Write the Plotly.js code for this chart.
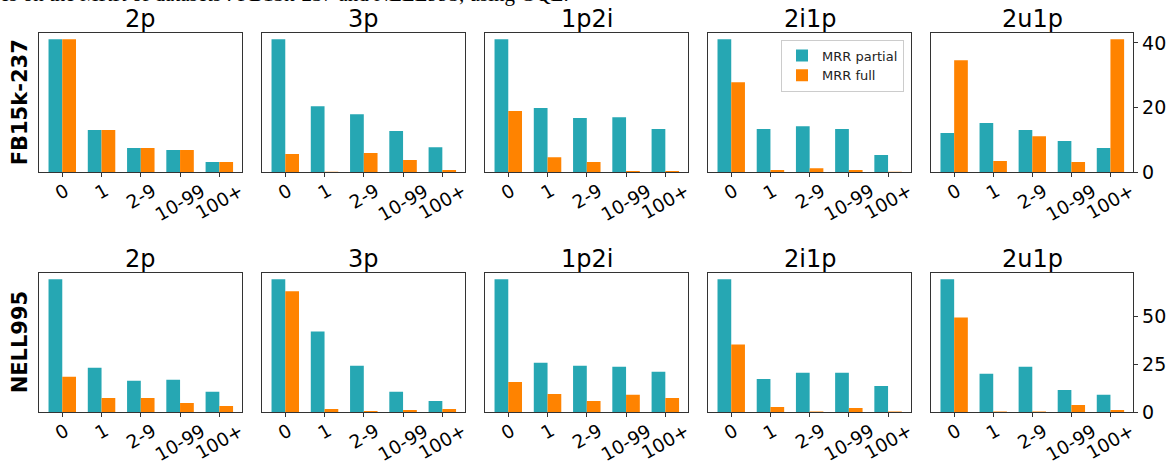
<!DOCTYPE html>
<html>
<head>
<meta charset="utf-8">
<script src="https://cdn.plot.ly/plotly-3.0.1.min.js"></script>
<style>html,body{margin:0;padding:0;background:#fff;}#chart{width:1173px;height:465px;}</style>
</head>
<body>
<div id="chart"></div>
<script>
// ---- data ----
const categories = ['0', '1', '2-9', '10-99', '100+'];
const queryTypes = ['2p', '3p', '1p2i', '2i1p', '2u1p'];
const datasets = ['FB15k-237', 'NELL995'];
const seriesNames = ['MRR partial', 'MRR full'];

// FB15k-237
const fb_2p_partial   = [41.1, 13.0, 7.4, 6.8, 3.1];
const fb_2p_full      = [41.1, 13.0, 7.4, 6.8, 3.1];
const fb_3p_partial   = [41.1, 20.4, 17.9, 12.7, 7.7];
const fb_3p_full      = [5.6, 0.1, 5.9, 3.7, 0.6];
const fb_1p2i_partial = [41.1, 19.8, 16.7, 17.0, 13.3];
const fb_1p2i_full    = [18.9, 4.6, 3.1, 0.3, 0.3];
const fb_2i1p_partial = [41.1, 13.3, 14.2, 13.3, 5.3];
const fb_2i1p_full    = [27.8, 0.6, 1.2, 0.6, 0.1];
const fb_2u1p_partial = [12.1, 15.2, 13.0, 9.6, 7.4];
const fb_2u1p_full    = [34.6, 3.4, 11.1, 3.1, 41.1];

// NELL995
const nell_2p_partial   = [69.7, 23.2, 16.4, 16.9, 10.6];
const nell_2p_full      = [18.5, 7.4, 7.4, 4.75, 3.2];
const nell_3p_partial   = [69.7, 42.3, 24.3, 10.6, 5.8];
const nell_3p_full      = [63.4, 1.6, 0.5, 1.1, 1.6];
const nell_1p2i_partial = [69.7, 25.9, 24.3, 23.8, 21.1];
const nell_1p2i_full    = [15.8, 9.5, 5.8, 9.0, 7.4];
const nell_2i1p_partial = [69.7, 17.4, 20.6, 20.6, 13.7];
const nell_2i1p_full    = [35.4, 2.6, 0.2, 2.1, 0.2];
const nell_2u1p_partial = [69.7, 20.1, 23.8, 11.6, 9.0];
const nell_2u1p_full    = [49.6, 0.2, 0.2, 3.7, 1.1];

const fbTicks = [0, 20, 40];
const nellTicks = [0, 25, 50];

const captionText = 'es on the MRR of datasets : FB15k-237 and NELL995, using GQE.';

// ---- layout helpers ----
const W = 1173, H = 465;
const colPx = [[39.3, 242.3], [262.3, 465.3], [485.3, 688.3], [708.3, 911.0], [931.3, 1133.3]];
const rowPx = [[32.7, 172.0], [272.7, 412.0]];
const colors = ['#26a7b3', '#ff8300'];
const FONT = 'DejaVu Sans, sans-serif';

const rows = [
  {partial: [fb_2p_partial, fb_3p_partial, fb_1p2i_partial, fb_2i1p_partial, fb_2u1p_partial],
   full:    [fb_2p_full, fb_3p_full, fb_1p2i_full, fb_2i1p_full, fb_2u1p_full], ticks: fbTicks},
  {partial: [nell_2p_partial, nell_3p_partial, nell_1p2i_partial, nell_2i1p_partial, nell_2u1p_partial],
   full:    [nell_2p_full, nell_3p_full, nell_1p2i_full, nell_2i1p_full, nell_2u1p_full], ticks: nellTicks}
];

const data = [];
const layout = {
  width: W, height: H,
  margin: {l: 0, r: 0, t: 0, b: 0},
  paper_bgcolor: '#fff', plot_bgcolor: '#fff',
  barmode: 'group', bargap: 0.3, bargroupgap: 0,
  showlegend: true,
  legend: {
    x: 781 / W, y: 1 - 39.5 / H, xanchor: 'left', yanchor: 'top',
    bgcolor: 'rgba(255,255,255,0.9)', bordercolor: '#cccccc', borderwidth: 1,
    font: {family: FONT, size: 13, color: '#222'},
    tracegroupgap: 0, itemwidth: 30
  },
  font: {family: FONT, color: '#000'},
  annotations: []
};

rows.forEach((row, r) => {
  const maxVal = Math.max(...row.partial.flat(), ...row.full.flat());
  const yTop = maxVal * 1.05;
  const yDom = [1 - rowPx[r][1] / H, 1 - rowPx[r][0] / H];
  for (let c = 0; c < 5; c++) {
    const n = r * 5 + c + 1;
    const xa = n === 1 ? 'x' : 'x' + n;
    const ya = n === 1 ? 'y' : 'y' + n;
    const xDom = [colPx[c][0] / W, colPx[c][1] / W];
    [row.partial[c], row.full[c]].forEach((vals, s) => {
      data.push({
        type: 'bar', x: categories, y: vals, name: seriesNames[s],
        xaxis: xa, yaxis: ya, marker: {color: colors[s], line: {width: 0}},
        showlegend: (r === 0 && c === 0), legendgroup: seriesNames[s],
        hoverinfo: 'skip'
      });
    });
    const last = c === 4;
    layout[n === 1 ? 'xaxis' : 'xaxis' + n] = {
      domain: xDom, anchor: ya, type: 'category',
      range: [-0.585, 4.585], showgrid: false, zeroline: false,
      showline: true, linecolor: '#333', linewidth: 1, mirror: true,
      ticks: 'outside', ticklen: 4, tickwidth: 1, tickcolor: '#333',
      showticklabels: false, fixedrange: true
    };
    layout[n === 1 ? 'yaxis' : 'yaxis' + n] = {
      domain: yDom, anchor: xa, range: [0, yTop],
      showgrid: false, zeroline: false,
      showline: true, linecolor: '#333', linewidth: 1, mirror: true,
      side: last ? 'right' : 'left',
      ticks: last ? 'outside' : '', ticklen: 4, tickwidth: 1, tickcolor: '#333',
      showticklabels: last, tickvals: row.ticks, ticktext: row.ticks.map(String),
      tickfont: {family: FONT, size: 19, color: '#000'}, fixedrange: true
    };
    // subplot title
    layout.annotations.push({
      xref: 'paper', yref: 'paper', x: (xDom[0] + xDom[1]) / 2, y: yDom[1],
      xanchor: 'center', yanchor: 'bottom', yshift: -2, showarrow: false,
      text: queryTypes[c], font: {family: FONT, size: 24, color: '#000'}
    });
    // rotated category labels (matplotlib-style centred rotation)
    categories.forEach((cat, i) => {
      layout.annotations.push({
        xref: xa, yref: 'paper', x: i, y: yDom[0],
        xanchor: 'center', yanchor: 'top', yshift: -5, showarrow: false,
        textangle: -30, text: cat, font: {family: FONT, size: 18.5, color: '#000'}
      });
    });
  }
  // row label
  layout.annotations.push({
    xref: 'paper', yref: 'paper', x: 20 / W, y: (yDom[0] + yDom[1]) / 2,
    xanchor: 'center', yanchor: 'middle', showarrow: false, textangle: -90,
    text: '<b>' + datasets[r] + '</b>', font: {family: FONT, size: 21, color: '#000'}
  });
});

// clipped caption at the very top
layout.annotations.push({
  xref: 'paper', yref: 'paper', x: -2 / W, y: 1 - 8 / H,
  xanchor: 'left', yanchor: 'bottom', showarrow: false,
  text: captionText, font: {family: 'Liberation Serif, serif', size: 21, color: '#000'}
});

Plotly.newPlot('chart', data, layout, {staticPlot: true, displayModeBar: false});
</script>
</body>
</html>
